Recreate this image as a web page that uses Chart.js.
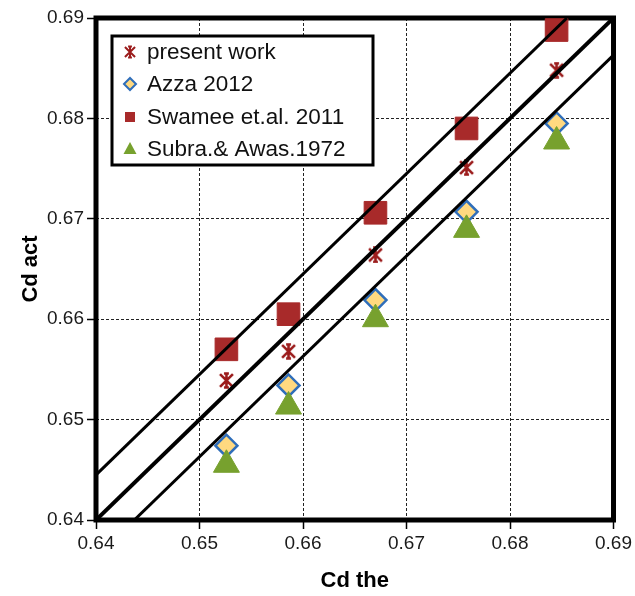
<!DOCTYPE html>
<html>
<head>
<meta charset="utf-8">
<title>Cd act vs Cd the</title>
<script src="https://cdn.jsdelivr.net/npm/chart.js@4/dist/chart.umd.min.js"></script>
<style>
  html, body { margin: 0; padding: 0; background: #fff; }
  #wrap { width: 635px; height: 596px; }
</style>
</head>
<body>
<div id="wrap"><canvas id="grafico" width="635" height="596"></canvas></div>
<script>
// theoretical Cd for the five runs
var cdThe = [0.6526, 0.6586, 0.6670, 0.6758, 0.6845];

// measured / predicted Cd
var presentWork = [0.6539, 0.6568, 0.6664, 0.6751, 0.6848];
var azza2012 = [0.6474, 0.6534, 0.6619, 0.6707, 0.6795];
var swamee2011 = [0.6570, 0.6605, 0.6706, 0.6790, 0.6888];
var subraAwas1972 = [0.6455, 0.6513, 0.6600, 0.6689, 0.6777];

// reference lines (perfect agreement and the two bounds)
var upperX = [0.64, 0.6855], upperY = [0.6445, 0.69];
var equalX = [0.64, 0.69], equalY = [0.64, 0.69];
var lowerX = [0.6437, 0.69], lowerY = [0.64, 0.6863];

var axisTicks = [0.64, 0.65, 0.66, 0.67, 0.68, 0.69];

var FONT = "'Liberation Sans', Arial, sans-serif";
var RED = '#a82a2a', STAR = '#9b1c1c', BLUE = '#2f6eba', GOLD = '#ffd980', GREEN = '#77a12e';

function pts(xs, ys) {
    return xs.map(function (x, i) { return { x: x, y: ys[i] }; });
}

// asterisk marker: X + vertical stroke with short caps
function starMark(size, lw) {
    var c = document.createElement('canvas');
    c.width = c.height = size;
    var g = c.getContext('2d');
    var m = size / 2, r = size / 2 - 1.5, d = r * 0.92;
    g.strokeStyle = STAR;
    g.lineWidth = lw;
    g.beginPath();
    g.moveTo(m, m - r); g.lineTo(m, m + r);
    g.moveTo(m - d, m - d); g.lineTo(m + d, m + d);
    g.moveTo(m + d, m - d); g.lineTo(m - d, m + d);
    g.moveTo(m - r * 0.35, m - r); g.lineTo(m + r * 0.35, m - r);
    g.moveTo(m - r * 0.35, m + r); g.lineTo(m + r * 0.35, m + r);
    g.stroke();
    return c;
}

function refLine(xs, ys, w) {
    return {
        type: 'line',
        label: '',
        data: pts(xs, ys),
        showLine: true,
        borderColor: '#000',
        borderWidth: w,
        pointRadius: 0,
        fill: false,
        order: 0
    };
}

var data = {
    datasets: [
        refLine(upperX, upperY, 3),
        refLine(equalX, equalY, 4),
        refLine(lowerX, lowerY, 3),
        {
            label: 'present work',
            data: pts(cdThe, presentWork),
            pointStyle: starMark(17, 2.6),
            pointRadius: 8,
            order: 2
        },
        {
            label: 'Azza 2012',
            data: pts(cdThe, azza2012),
            pointStyle: 'rectRot',
            pointRadius: 11,
            backgroundColor: GOLD,
            borderColor: BLUE,
            borderWidth: 2.5,
            order: 4
        },
        {
            label: 'Swamee et.al. 2011',
            data: pts(cdThe, swamee2011),
            pointStyle: 'rect',
            pointRadius: 16,
            backgroundColor: RED,
            borderColor: RED,
            borderWidth: 1,
            order: 2
        },
        {
            label: 'Subra.& Awas.1972',
            data: pts(cdThe, subraAwas1972),
            pointStyle: 'triangle',
            pointRadius: 15,
            backgroundColor: GREEN,
            borderColor: GREEN,
            borderWidth: 1,
            order: 3
        }
    ]
};

// thick frame round the plot area
var frame = {
    id: 'frame',
    beforeDatasetsDraw: function (chart) {
        var a = chart.chartArea, ctx = chart.ctx;
        ctx.save();
        ctx.strokeStyle = '#000';
        ctx.lineWidth = 5;
        ctx.strokeRect(a.left, a.top, a.right - a.left, a.bottom - a.top);
        ctx.restore();
    }
};

// boxed legend inside the top-left corner
var legendBox = {
    id: 'legendBox',
    afterDraw: function (chart) {
        var a = chart.chartArea, ctx = chart.ctx;
        var x0 = a.left + 16, y0 = a.top + 18, w = 261, h = 129;
        ctx.save();
        ctx.fillStyle = '#fff';
        ctx.fillRect(x0, y0, w, h);
        ctx.strokeStyle = '#000';
        ctx.lineWidth = 3;
        ctx.strokeRect(x0, y0, w, h);

        var rows = [y0 + 16, y0 + 48, y0 + 81, y0 + 113];
        var mx = x0 + 18;

        ctx.drawImage(starMark(14, 2), mx - 7, rows[0] - 7);

        ctx.beginPath();
        ctx.moveTo(mx - 6, rows[1]); ctx.lineTo(mx, rows[1] - 6);
        ctx.lineTo(mx + 6, rows[1]); ctx.lineTo(mx, rows[1] + 6);
        ctx.closePath();
        ctx.fillStyle = GOLD; ctx.fill();
        ctx.strokeStyle = BLUE; ctx.lineWidth = 2; ctx.stroke();

        ctx.fillStyle = RED;
        ctx.fillRect(mx - 5, rows[2] - 5, 10, 10);

        ctx.beginPath();
        ctx.moveTo(mx, rows[3] - 7); ctx.lineTo(mx + 6.5, rows[3] + 5);
        ctx.lineTo(mx - 6.5, rows[3] + 5); ctx.closePath();
        ctx.fillStyle = GREEN; ctx.fill();

        ctx.fillStyle = '#111';
        ctx.font = '22.5px ' + FONT;
        ctx.textBaseline = 'middle';
        var labels = chart.data.datasets.slice(3).map(function (d) { return d.label; });
        labels.forEach(function (t, i) { ctx.fillText(t, x0 + 35, rows[i] + 1); });
        ctx.restore();
    }
};

function axis(title, fit, titlePad) {
    return {
        type: 'linear',
        min: 0.64,
        max: 0.69,
        afterFit: fit,
        afterBuildTicks: function (scale) {
            scale.ticks = axisTicks.map(function (v) { return { value: v }; });
        },
        ticks: {
            color: '#1a1a1a',
            font: { family: FONT, size: 19 },
            padding: 3,
            callback: function (v) { return v.toFixed(2); }
        },
        grid: {
            color: '#222',
            lineWidth: 1,
            tickColor: '#000',
            tickLength: 9,
            tickWidth: 1.5
        },
        border: { display: false, dash: [3, 2] },
        title: {
            display: true,
            text: title,
            color: '#000',
            font: { family: FONT, size: 22, weight: 'bold' },
            padding: titlePad
        }
    };
}

var options = {
    responsive: false,
    animation: false,
    layout: { padding: { left: 0, right: 19, top: 18, bottom: 0 } },
    plugins: { legend: { display: false }, tooltip: { enabled: false } },
    elements: { line: { tension: 0 } },
    datasets: { scatter: { clip: false } },
    scales: {
        x: axis('Cd the', function (s) { s.height = 76; }, { top: 0, bottom: 2 }),
        y: axis('Cd act', function (s) { s.width = 96; }, { top: 18, bottom: 0 })
    }
};

var ctx = document.querySelector('#grafico').getContext('2d');
var chart = new Chart(ctx, {
    type: 'scatter',
    data: data,
    options: options,
    plugins: [frame, legendBox]
});
</script>
</body>
</html>
